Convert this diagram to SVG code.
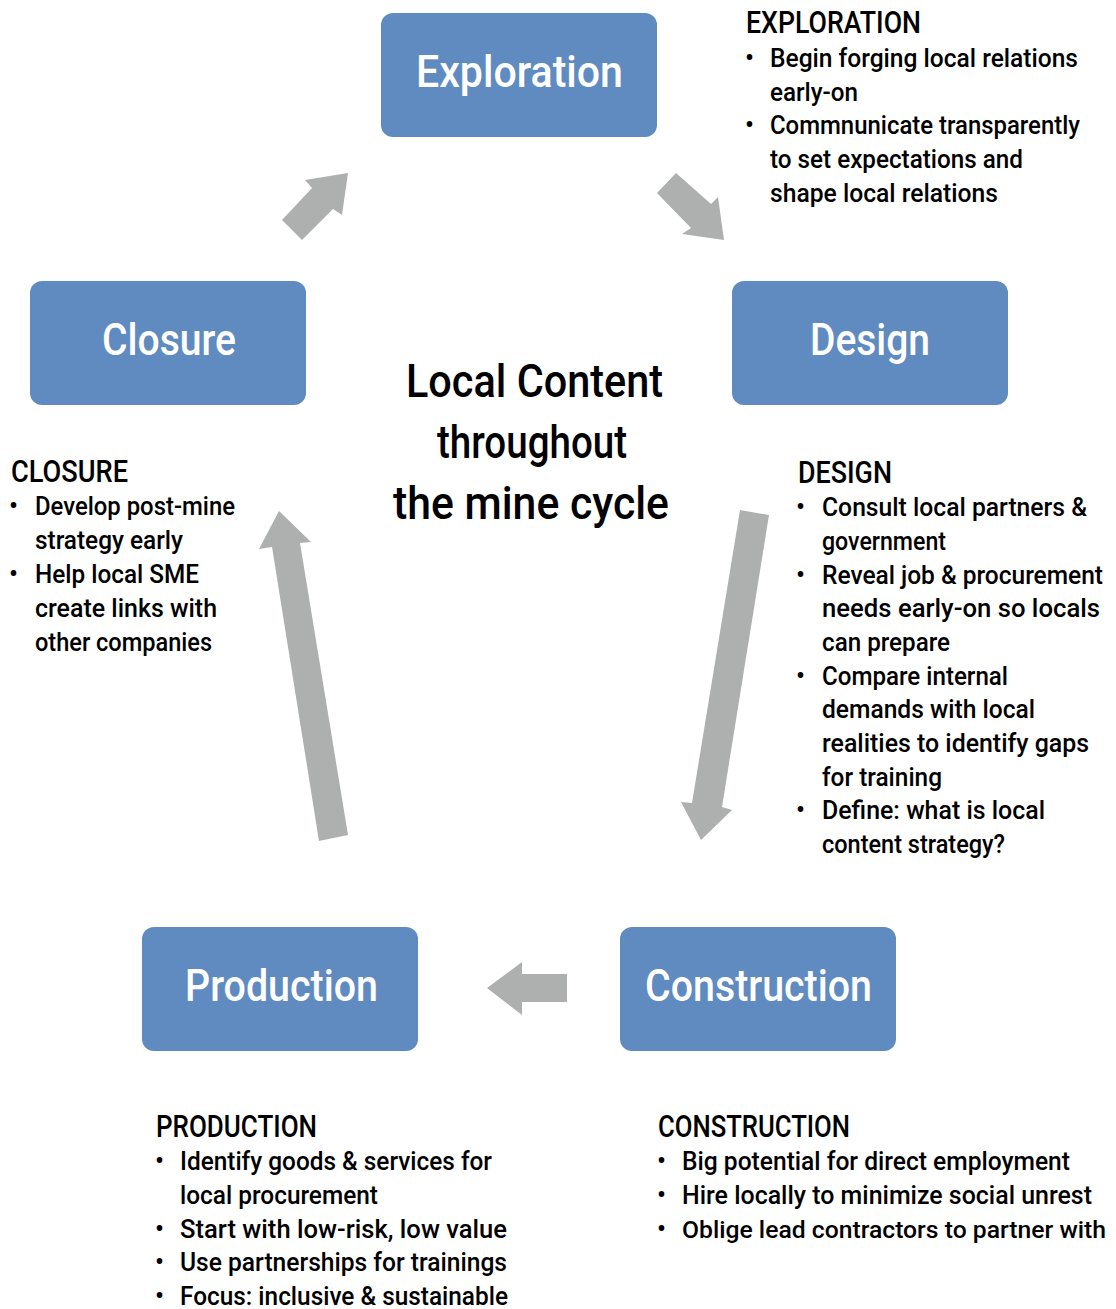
<svg xmlns="http://www.w3.org/2000/svg" width="1116" height="1309" viewBox="0 0 1116 1309">
<style>
.box{fill:#5F8BC0;}
.lbl{font-family:Roboto,"Liberation Sans",sans-serif;font-size:45px;font-weight:500;fill:#FFFFFF;text-anchor:middle;}
.hd{font-family:Roboto,"Liberation Sans",sans-serif;font-size:31px;font-weight:500;fill:#000;}
.tx{font-family:Roboto,"Liberation Sans",sans-serif;font-size:25.5px;font-weight:500;fill:#000;}
.title{font-family:Roboto,"Liberation Sans",sans-serif;font-size:46px;font-weight:500;fill:#000;text-anchor:middle;}
.arr{fill:#AEB0AF;}
</style>
<rect width="1116" height="1309" fill="#FFFFFF"/>
<g id="connectors">
<polygon class="arr" points="302,240 282,220 312,188 305,180 348,173 342,215 333,209"/>
<polygon class="arr" points="676,173 657,193 691,228 682,234 724,240 718,197 711,204"/>
<polygon class="arr" points="567,974 522,974 522,962 487,988 522,1015 522,1002 567,1002"/>
<polygon class="arr" points="740,510 769,515 722,807 732,810 701,840 681,802 692,803"/>
<polygon class="arr" points="348,835 319,841 272,547 259,549 279,511 311,542 300,543"/>
</g>
<g id="exploration">
<rect class="box" x="381" y="13" width="276" height="124" rx="12"/>
<text class="lbl" x="519.5" y="87" textLength="207" lengthAdjust="spacingAndGlyphs">Exploration</text>
</g>
<g id="design">
<rect class="box" x="732" y="281" width="276" height="124" rx="12"/>
<text class="lbl" x="870" y="355" textLength="120" lengthAdjust="spacingAndGlyphs">Design</text>
</g>
<g id="closure">
<rect class="box" x="30" y="281" width="276" height="124" rx="12"/>
<text class="lbl" x="169" y="355" textLength="134" lengthAdjust="spacingAndGlyphs">Closure</text>
</g>
<g id="production">
<rect class="box" x="142" y="927" width="276" height="124" rx="12"/>
<text class="lbl" x="281.5" y="1001" textLength="193" lengthAdjust="spacingAndGlyphs">Production</text>
</g>
<g id="construction">
<rect class="box" x="620" y="927" width="276" height="124" rx="12"/>
<text class="lbl" x="758.5" y="1001" textLength="227" lengthAdjust="spacingAndGlyphs">Construction</text>
</g>
<g id="title">
<text class="title" x="534.5" y="397" textLength="257" lengthAdjust="spacingAndGlyphs">Local Content</text>
<text class="title" x="532" y="458" textLength="190" lengthAdjust="spacingAndGlyphs">throughout</text>
<text class="title" x="531" y="519" textLength="276" lengthAdjust="spacingAndGlyphs">the mine cycle</text>
</g>
<g id="exploration-notes">
<text class="hd" x="746" y="33" textLength="175" lengthAdjust="spacingAndGlyphs">EXPLORATION</text>
<text class="tx" x="745" y="67">•</text>
<text class="tx" x="770" y="67" textLength="308" lengthAdjust="spacingAndGlyphs">Begin forging local relations</text>
<text class="tx" x="770" y="101" textLength="88" lengthAdjust="spacingAndGlyphs">early-on</text>
<text class="tx" x="745" y="134">•</text>
<text class="tx" x="770" y="134" textLength="310" lengthAdjust="spacingAndGlyphs">Commnunicate transparently</text>
<text class="tx" x="770" y="168" textLength="253" lengthAdjust="spacingAndGlyphs">to set expectations and</text>
<text class="tx" x="770" y="202" textLength="228" lengthAdjust="spacingAndGlyphs">shape local relations</text>
</g>
<g id="closure-notes">
<text class="hd" x="11" y="482" textLength="117" lengthAdjust="spacingAndGlyphs">CLOSURE</text>
<text class="tx" x="9" y="515">•</text>
<text class="tx" x="35" y="515" textLength="200" lengthAdjust="spacingAndGlyphs">Develop post-mine</text>
<text class="tx" x="35" y="549" textLength="148" lengthAdjust="spacingAndGlyphs">strategy early</text>
<text class="tx" x="9" y="583">•</text>
<text class="tx" x="35" y="583" textLength="164" lengthAdjust="spacingAndGlyphs">Help local SME</text>
<text class="tx" x="35" y="617" textLength="182" lengthAdjust="spacingAndGlyphs">create links with</text>
<text class="tx" x="35" y="651" textLength="177" lengthAdjust="spacingAndGlyphs">other companies</text>
</g>
<g id="design-notes">
<text class="hd" x="798" y="483" textLength="94" lengthAdjust="spacingAndGlyphs">DESIGN</text>
<text class="tx" x="796" y="516">•</text>
<text class="tx" x="822" y="516" textLength="265" lengthAdjust="spacingAndGlyphs">Consult local partners &amp;</text>
<text class="tx" x="822" y="550" textLength="124" lengthAdjust="spacingAndGlyphs">government</text>
<text class="tx" x="796" y="584">•</text>
<text class="tx" x="822" y="584" textLength="281" lengthAdjust="spacingAndGlyphs">Reveal job &amp; procurement</text>
<text class="tx" x="822" y="617" textLength="278" lengthAdjust="spacingAndGlyphs">needs early-on so locals</text>
<text class="tx" x="822" y="651" textLength="128" lengthAdjust="spacingAndGlyphs">can prepare</text>
<text class="tx" x="796" y="685">•</text>
<text class="tx" x="822" y="685" textLength="186" lengthAdjust="spacingAndGlyphs">Compare internal</text>
<text class="tx" x="822" y="718" textLength="213" lengthAdjust="spacingAndGlyphs">demands with local</text>
<text class="tx" x="822" y="752" textLength="267" lengthAdjust="spacingAndGlyphs">realities to identify gaps</text>
<text class="tx" x="822" y="786" textLength="120" lengthAdjust="spacingAndGlyphs">for training</text>
<text class="tx" x="796" y="819">•</text>
<text class="tx" x="822" y="819" textLength="223" lengthAdjust="spacingAndGlyphs">Define: what is local</text>
<text class="tx" x="822" y="853" textLength="183" lengthAdjust="spacingAndGlyphs">content strategy?</text>
</g>
<g id="production-notes">
<text class="hd" x="156" y="1137" textLength="161" lengthAdjust="spacingAndGlyphs">PRODUCTION</text>
<text class="tx" x="155" y="1170">•</text>
<text class="tx" x="180" y="1170" textLength="312" lengthAdjust="spacingAndGlyphs">Identify goods &amp; services for</text>
<text class="tx" x="180" y="1204" textLength="198" lengthAdjust="spacingAndGlyphs">local procurement</text>
<text class="tx" x="155" y="1238">•</text>
<text class="tx" x="180" y="1238" textLength="327" lengthAdjust="spacingAndGlyphs">Start with low-risk, low value</text>
<text class="tx" x="155" y="1271">•</text>
<text class="tx" x="180" y="1271" textLength="327" lengthAdjust="spacingAndGlyphs">Use partnerships for trainings</text>
<text class="tx" x="155" y="1305">•</text>
<text class="tx" x="180" y="1305" textLength="328" lengthAdjust="spacingAndGlyphs">Focus: inclusive &amp; sustainable</text>
</g>
<g id="construction-notes">
<text class="hd" x="658" y="1137" textLength="192" lengthAdjust="spacingAndGlyphs">CONSTRUCTION</text>
<text class="tx" x="657" y="1170">•</text>
<text class="tx" x="682" y="1170" textLength="388" lengthAdjust="spacingAndGlyphs">Big potential for direct employment</text>
<text class="tx" x="657" y="1204">•</text>
<text class="tx" x="682" y="1204" textLength="410" lengthAdjust="spacingAndGlyphs">Hire locally to minimize social unrest</text>
<text class="tx" x="657" y="1238">•</text>
<text class="tx" x="682" y="1238" style="font-size:24px" textLength="424" lengthAdjust="spacingAndGlyphs">Oblige lead contractors to partner with</text>
</g>
</svg>
